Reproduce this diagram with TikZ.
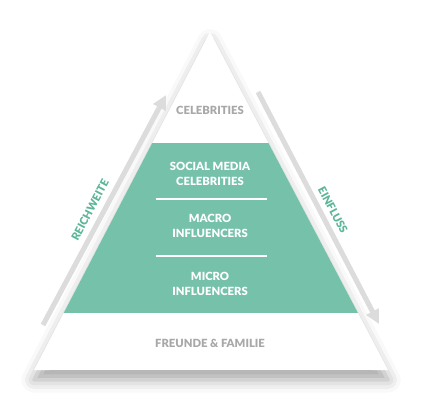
\documentclass[tikz,border=0pt]{standalone}
\usepackage{fontspec}
\setmainfont{Lato}[BoldFont={Lato Black}]
\usetikzlibrary{arrows.meta,shadows.blur}
\definecolor{minze}{RGB}{118,193,170}
\definecolor{minzedunkel}{RGB}{92,182,152}
\definecolor{grau}{RGB}{168,168,168}
\definecolor{hellgrau}{RGB}{220,220,220}

\begin{document}
\begin{tikzpicture}[x=0.025cm, y=-0.025cm,
		stufe/.style={font=\fontsize{8}{10.6}\selectfont\bfseries, align=center, inner sep=0pt},
		etikett/.style={font=\fontsize{7.8}{9}\selectfont\bfseries, color=minzedunkel, inner sep=0pt},
		pfeil/.style={draw=hellgrau, line width=3.6pt, -{Triangle[width=9.5pt,length=10pt]}},
		trenner/.style={draw=white, line width=0.8pt}]
			\useasboundingbox (0,0) rectangle (422,404);
			\coordinate (spitze) at (210,32);
			\coordinate (links) at (34,370);
			\coordinate (rechts) at (388,370);
			% weisses Dreieck mit Schatten
			\fill[white, blur shadow={shadow xshift=0pt, shadow yshift=-7pt, shadow blur radius=9pt, shadow opacity=35}] (spitze) -- (links) -- (rechts) -- cycle;
			\begin{scope}
				\clip (spitze) -- (links) -- (rechts) -- cycle;
				\fill[minze] (0,143) rectangle (422,313);
			\end{scope}
			\draw[trenner] (156,199) -- (267,199);
			\draw[trenner] (156,256) -- (267,256);
			% Stufen
			\node[stufe, color=grau] (celeb) at (210,110) {CELEBRITIES};
			\node[stufe, color=white] (social) at (210,173.5) {SOCIAL MEDIA\\CELEBRITIES};
			\node[stufe, color=white] (macro) at (210,225.5) {MACRO\\INFLUENCERS};
			\node[stufe, color=white] (micro) at (210,283.5) {MICRO\\INFLUENCERS};
			\node[stufe, color=grau] (freunde) at (210,343) {FREUNDE \& FAMILIE};
			% Pfeile
			\coordinate (reichA) at (43,325);
			\coordinate (reichB) at (166,95);
			\coordinate (einA) at (258,92);
			\coordinate (einB) at (379,324);
			\draw[pfeil] (reichA) -- (reichB);
			\draw[pfeil] (einA) -- (einB);
			\node[etikett, rotate=62] (reich) at (90,210) {REICHWEITE};
			\node[etikett, rotate=-62] (einfluss) at (333,210) {EINFLUSS};
		\end{tikzpicture}
\end{document}
